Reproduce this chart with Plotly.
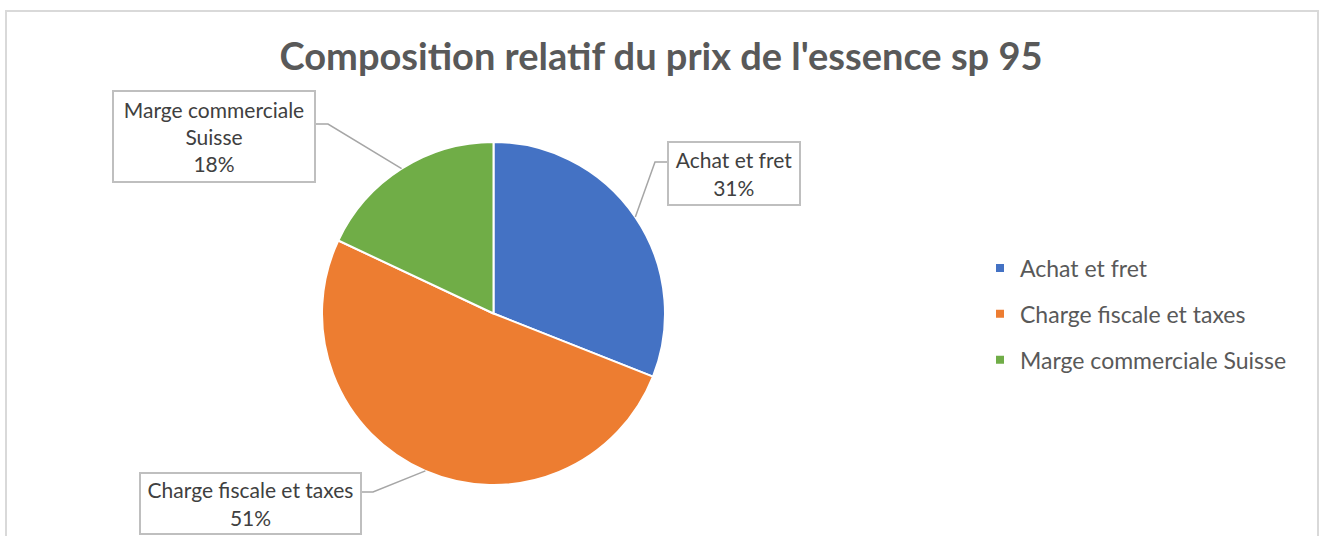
import math
import plotly.graph_objects as go

# ---- data ----
categories = ["Achat et fret", "Charge fiscale et taxes", "Marge commerciale Suisse"]
values = [31, 51, 18]
colors = ["#4472C4", "#ED7D31", "#70AD47"]
label_texts = ["Achat et fret", "Charge fiscale et taxes", "Marge commerciale<br>Suisse"]
title_text = "Composition relatif du prix de l'essence sp 95"

W, H = 1319, 536
FONT = "Lato"

# pie geometry (pixels)
cx, cy, R = 493.5, 313.5, 171.5

def px(x):
    return x / W

def py(y):
    return 1 - y / H

fig = go.Figure()
fig.add_trace(go.Pie(
    labels=categories, values=values,
    marker=dict(colors=colors, line=dict(color="white", width=2)),
    sort=False, direction="clockwise", rotation=0,
    textinfo="none", showlegend=False, hoverinfo="label+percent",
    domain=dict(x=[px(cx - R), px(cx + R)], y=[py(cy + R), py(cy - R)]),
))

# legend entries (square markers)
for c, col in zip(categories, colors):
    fig.add_trace(go.Scatter(
        x=[None], y=[None], mode="markers", name=c, legendgroup=c,
        marker=dict(symbol="square", size=8, color=col),
    ))

# label boxes: (center x, center y, width, height, stub end x, side, stub y)
boxes = [
    (734, 173.5, 130, 61, 655, "left", 162),
    (250.5, 503.5, 219, 59, 373, "right", 492),
    (214, 136.5, 200, 89, 328, "right", 124),
]
total = sum(values)
cum = 0
shapes = []
annotations = []
for i, v in enumerate(values):
    mid = (cum + v / 2) / total * 2 * math.pi
    cum += v
    ex = cx + R * math.sin(mid)
    ey = cy - R * math.cos(mid)
    bx, by, bw, bh, sx, side, sy = boxes[i]
    pct = round(v / total * 100)
    annotations.append(dict(
        x=px(bx), y=py(by), xref="paper", yref="paper",
        xanchor="center", yanchor="middle", showarrow=False,
        text=f"{label_texts[i]}<br>{pct}%",
        font=dict(family=FONT, size=21, color="#404040"),
        bgcolor="white", bordercolor="#BFBFBF", borderwidth=2, borderpad=0,
        width=bw, height=bh, align="center",
    ))
    edge = bx - bw / 2 - 2 if side == "left" else bx + bw / 2 + 2
    shapes.append(dict(
        type="path", xref="paper", yref="paper",
        path=f"M {px(edge)},{py(sy)} L {px(sx)},{py(sy)} L {px(ex)},{py(ey)}",
        line=dict(color="#A6A6A6", width=1.5),
    ))

# outer chart border
shapes.append(dict(type="rect", xref="paper", yref="paper",
                   x0=px(6), x1=px(1318), y0=py(545), y1=py(11),
                   line=dict(color="#D9D9D9", width=2), layer="below"))

fig.update_layout(
    width=W, height=H,
    margin=dict(l=0, r=0, t=0, b=0),
    paper_bgcolor="white", plot_bgcolor="white",
    xaxis=dict(visible=False), yaxis=dict(visible=False),
    title=dict(text=f"<b>{title_text}</b>", x=px(661), y=py(57),
               xanchor="center", yanchor="middle",
               font=dict(family=FONT, size=38, color="#595959")),
    legend=dict(x=px(980), y=py(314), xanchor="left", yanchor="middle",
                font=dict(family=FONT, size=23, color="#595959"),
                traceorder="grouped", tracegroupgap=13,
                itemclick=False, bgcolor="rgba(0,0,0,0)"),
    shapes=shapes, annotations=annotations,
)

fig.write_html("out.html")
